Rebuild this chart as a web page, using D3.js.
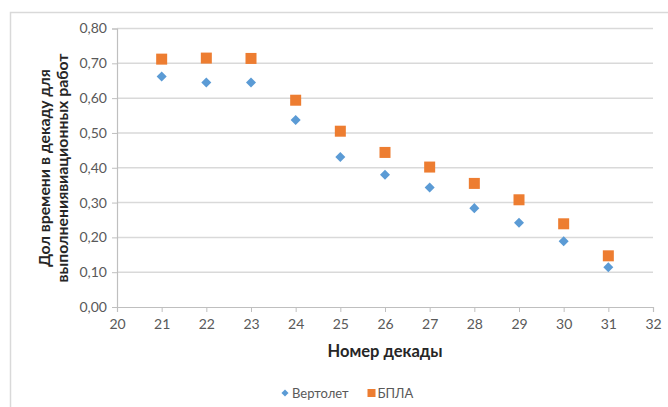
<!DOCTYPE html>
<html>
<head>
<meta charset="utf-8">
<script src="https://cdn.jsdelivr.net/npm/d3@7"></script>
<style>
  html, body { margin: 0; padding: 0; background: #fff; }
  svg { display: block; font-family: Lato, "Open Sans", sans-serif; }
</style>
</head>
<body>
<svg id="chart" width="668" height="407"></svg>
<script>
// Decade numbers and the share of time available for aviation work
const decades = [21, 22, 23, 24, 25, 26, 27, 28, 29, 30, 31];
const helicopter = [0.662, 0.645, 0.645, 0.537, 0.431, 0.380, 0.343, 0.284, 0.242, 0.189, 0.114];
const uav = [0.712, 0.715, 0.714, 0.594, 0.505, 0.444, 0.402, 0.355, 0.308, 0.239, 0.147];
const xTicks = [20, 21, 22, 23, 24, 25, 26, 27, 28, 29, 30, 31, 32];
const yTicks = [0, 0.1, 0.2, 0.3, 0.4, 0.5, 0.6, 0.7, 0.8];
const seriesNames = ["Вертолет", "БПЛА"];

const svg = d3.select("#chart");
const plot = { left: 117, right: 653, top: 28.5, bottom: 307 };

const x = d3.scaleLinear().domain([20, 32]).range([plot.left, plot.right]);
const y = d3.scaleLinear().domain([0, 0.8]).range([plot.bottom, plot.top]);

const fmt = v => d3.format(".2f")(v).replace(".", ",");
const textGray = "#595959";

// outer frame of the chart block
svg.append("path")
  .attr("d", "M10.5,407 V12.5 H668")
  .attr("fill", "none").attr("stroke", "#d9d9d9").attr("stroke-width", 1.5);

// horizontal gridlines
svg.append("g").selectAll("line")
  .data(yTicks.filter(d => d > 0))
  .join("line")
  .attr("x1", plot.left).attr("x2", plot.right)
  .attr("y1", d => y(d)).attr("y2", d => y(d))
  .attr("stroke", "#d9d9d9").attr("stroke-width", 1.5);

// y axis
const yAxis = svg.append("g")
  .attr("transform", `translate(${plot.left},0)`)
  .call(d3.axisLeft(y).tickValues(yTicks).tickFormat(fmt).tickSize(5).tickPadding(5));
yAxis.select(".domain").attr("stroke", "#bfbfbf").attr("stroke-width", 1.2);
yAxis.selectAll(".tick line").attr("stroke", "#bfbfbf");
yAxis.selectAll(".tick text")
  .attr("fill", textGray).attr("font-size", 14).attr("font-family", "Lato, sans-serif");

// x axis
const xAxis = svg.append("g")
  .attr("transform", `translate(0,${plot.bottom})`)
  .call(d3.axisBottom(x).tickValues(xTicks).tickFormat(d3.format("d")).tickSize(5).tickPadding(7));
xAxis.select(".domain").attr("stroke", "#bfbfbf").attr("stroke-width", 1.2);
xAxis.selectAll(".tick line").attr("stroke", "#bfbfbf");
xAxis.selectAll(".tick text")
  .attr("fill", textGray).attr("font-size", 14).attr("font-family", "Lato, sans-serif");

// axis titles
svg.append("text")
  .attr("x", 385).attr("y", 357)
  .attr("text-anchor", "middle")
  .attr("font-size", 16.5).attr("font-weight", "bold").attr("fill", "#262626")
  .text("Номер декады");

const yTitle = svg.append("text")
  .attr("transform", "translate(0,168) rotate(-90)")
  .attr("text-anchor", "middle")
  .attr("font-size", 15.8).attr("font-weight", "bold").attr("fill", "#262626");
yTitle.append("tspan").attr("x", 0).attr("y", 50).text("Дол времени в декаду для");
yTitle.append("tspan").attr("x", 0).attr("y", 67.5).text("выполнениявиационных работ");

// markers
const diamond = d3.symbol().type(d3.symbolDiamond2).size(64);
const blue = "#5b9bd5", orange = "#ed7d31";

svg.append("g").selectAll("path")
  .data(decades.map((d, i) => [d, helicopter[i]]))
  .join("path")
  .attr("transform", d => `translate(${x(d[0])},${y(d[1])})`)
  .attr("d", diamond)
  .attr("fill", blue);

const sq = 11;
svg.append("g").selectAll("rect")
  .data(decades.map((d, i) => [d, uav[i]]))
  .join("rect")
  .attr("x", d => x(d[0]) - sq / 2).attr("y", d => y(d[1]) - sq / 2)
  .attr("width", sq).attr("height", sq)
  .attr("fill", orange);

// legend
const legend = svg.append("g").attr("font-size", 13).attr("fill", textGray);
legend.append("path")
  .attr("transform", "translate(285,393)")
  .attr("d", d3.symbol().type(d3.symbolDiamond2).size(32))
  .attr("fill", blue);
legend.append("text").attr("x", 292).attr("y", 397.5).text(seriesNames[0]);
legend.append("rect")
  .attr("x", 367.5).attr("y", 389).attr("width", 8).attr("height", 8)
  .attr("fill", orange);
legend.append("text").attr("x", 377.5).attr("y", 397.5).text(seriesNames[1]);
</script>
</body>
</html>
